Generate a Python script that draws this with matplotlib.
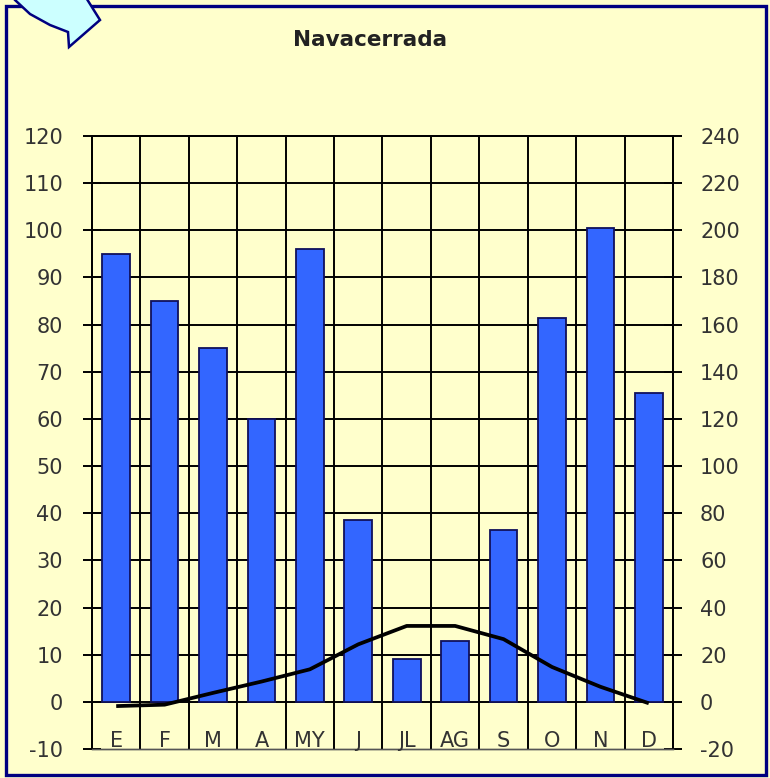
import numpy as np
import matplotlib
matplotlib.use("Agg")
import matplotlib.pyplot as plt
from matplotlib.patches import Polygon, Rectangle

plt.rcParams["axes.unicode_minus"] = False

# Navacerrada climate: precipitation (mm, right axis) and temperature (C, left axis)
months = ["E", "F", "M", "A", "MY", "J", "JL", "AG", "S", "O", "N", "D"]
precip = [190, 170, 150, 120, 192, 77, 18, 26, 73, 163, 201, 131]
temp = [-0.9, -0.6, 1.9, 4.3, 6.9, 12.2, 16.1, 16.1, 13.3, 7.4, 3.2, -0.3]

temp_ticks = np.arange(-10, 121, 10)
precip_ticks = np.arange(-20, 241, 20)

W, H = 770, 778
BG = "#FFFFCC"
NAVY = "#000080"
TXT = "#333333"


def px(x, y):
    """pixel position (from top-left) -> figure fraction"""
    return x / W, 1 - y / H


fig = plt.figure(figsize=(W / 100, H / 100), dpi=100, facecolor=BG)

left, top = px(92, 136)
right, bottom = px(673, 749)
ax = fig.add_axes([left, bottom, right - left, top - bottom])
ax2 = ax.twinx()
ax.set_zorder(2)
ax2.set_zorder(1)
ax.patch.set_visible(False)
ax2.patch.set_facecolor("white")

x = np.arange(len(months))

# bars on the precipitation axis
ax2.bar(x, precip, width=0.57, color="#3366FF", edgecolor="#10105a",
        linewidth=1.3, zorder=2)
ax2.set_ylim(-20, 240)
ax2.set_yticks(precip_ticks)
ax2.set_axisbelow(True)
ax2.yaxis.grid(True, color="black", linewidth=1.4)
gl = ax2.get_ygridlines()
gl[0].set_visible(False)
gl[-1].set_visible(False)

# temperature line on the left axis
ax.plot(x, temp, color="black", linewidth=2.7, solid_capstyle="butt", zorder=5)
ax.set_ylim(-10, 120)
ax.set_xlim(-0.5, len(months) - 0.5)
ax.set_yticks(temp_ticks)

# vertical lines between months (bars never reach them)
ax.set_xticks(np.arange(0.5, len(months) - 1, 1))
ax.xaxis.grid(True, color="black", linewidth=1.4)
ax.tick_params(axis="x", length=0, labelbottom=False)

for i, m in enumerate(months):
    ax.text(i, -9.6, m, ha="center", va="baseline", fontsize=15, color=TXT)

ax.tick_params(axis="y", direction="inout", length=13, width=1.4,
               pad=14.4, labelsize=15, labelcolor=TXT)
ax2.tick_params(axis="y", direction="inout", length=13, width=1.4,
                pad=13, labelsize=15, labelcolor=TXT)

for a in (ax, ax2):
    a.spines["left"].set_linewidth(1.4)
    a.spines["right"].set_linewidth(1.4)
    a.spines["top"].set_linewidth(1.4)
    a.spines["bottom"].set_linewidth(1.0)
    a.spines["bottom"].set_color("#555555")

fig.text(*px(370, 40), "Navacerrada", ha="center", va="center",
         fontsize=15.5, fontweight="bold", color="#222222")

# outer frame
x0, y0 = px(6, 775)
x1, y1 = px(766, 6)
fig.patches.append(Rectangle((x0, y0), x1 - x0, y1 - y0, fill=False,
                             edgecolor=NAVY, linewidth=2.4,
                             transform=fig.transFigure))

# curved arrow in the corner
arrow_pts = [(100, 20), (80, -12), (71, -4), (50, -18), (20, -35), (-5, -30),
             (5, -12), (15, 0), (30, 14), (50, 25), (68, 32), (69, 47)]
fig.patches.append(Polygon([px(a, b) for a, b in arrow_pts], closed=True,
                           facecolor="#CCFFFF", edgecolor=NAVY, linewidth=1.8,
                           transform=fig.transFigure))

fig.savefig("out.png", dpi=100, facecolor=BG)
